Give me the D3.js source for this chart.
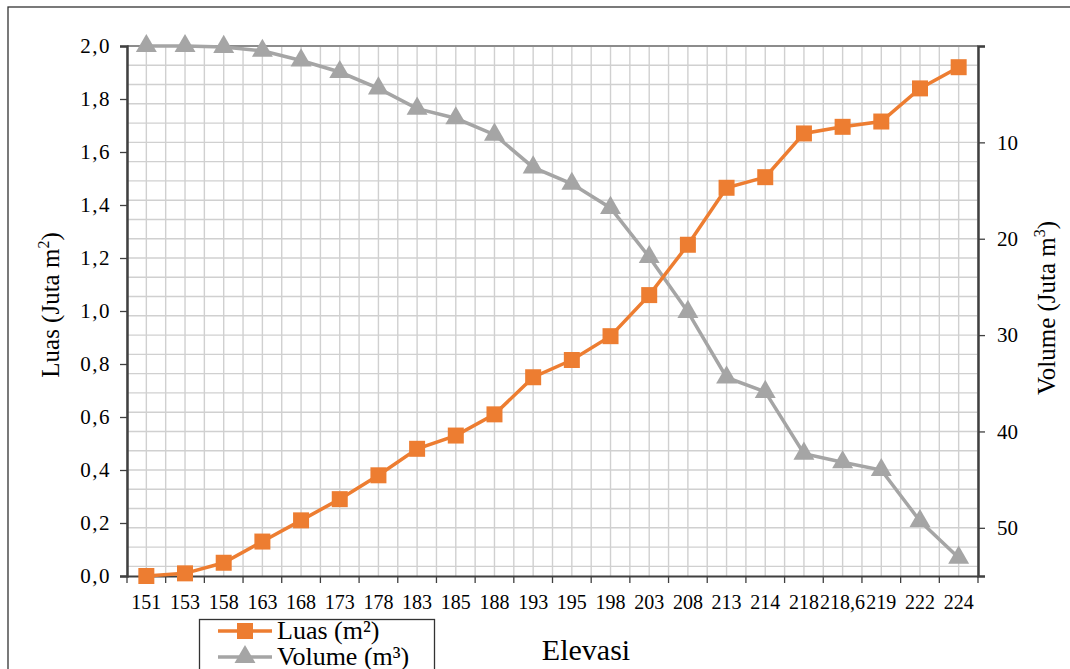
<!DOCTYPE html>
<html>
<head>
<meta charset="utf-8">
<script src="https://cdn.jsdelivr.net/npm/d3@7"></script>
<style>
  body { margin: 0; background: #fff; }
  svg text { font-family: "Liberation Serif", "Times New Roman", serif; fill: #000; }
</style>
</head>
<body>
<div id="chart"></div>
<script>
// data
const elevasi = ["151","153","158","163","168","173","178","183","185","188","193","195","198","203","208","213","214","218","218,6","219","222","224"]
const luas = [0, 0.01, 0.05, 0.13, 0.21, 0.29, 0.38, 0.48, 0.53, 0.61, 0.75, 0.815, 0.905, 1.06, 1.25, 1.465, 1.505, 1.67, 1.695, 1.715, 1.84, 1.92]
const volume = [0, 0, 0.1, 0.5, 1.5, 2.7, 4.4, 6.5, 7.5, 9.2, 12.6, 14.3, 16.8, 21.9, 27.6, 34.4, 35.9, 42.3, 43.2, 44.0, 49.3, 53.1]
const leftTicks = [0, 0.2, 0.4, 0.6, 0.8, 1.0, 1.2, 1.4, 1.6, 1.8, 2.0]
const rightTicks = [0, 10, 20, 30, 40, 50]

const width = 1070
const height = 669
const margins = { top: 46, bottom: 93, left: 127, right: 92 }
const orange = "#ED7D31"
const grey = "#A5A5A5"

let svg = d3.select('div#chart').append('svg').attr("width", width).attr("height", height)

// outer frame
svg.append('rect').attr('x', 8).attr('y', 7).attr('width', 1100).attr('height', 700)
    .attr('fill', 'none').attr('stroke', '#333').attr('stroke-width', 1.3)

let x = d3.scaleBand().domain(elevasi).range([margins.left, width - margins.right]).padding(0)
let yL = d3.scaleLinear().domain([0, 2]).range([height - margins.bottom, margins.top])
let yR = d3.scaleLinear().domain([0, 55]).range([margins.top, height - margins.bottom])

let grid = svg.append('g').attr('id', 'grid')
// vertical grid: band edges and centres
let vLines = []
elevasi.forEach(e => { vLines.push(x(e)); vLines.push(x(e) + x.bandwidth() / 2) })
vLines.push(x.range()[1])
grid.selectAll('line.v').data(vLines).join('line').attr('class', 'v')
    .attr('x1', d => d).attr('x2', d => d)
    .attr('y1', margins.top).attr('y2', height - margins.bottom)
    .attr('stroke', '#d0d0d0').attr('stroke-width', 1.4)
// horizontal grid from right axis minor units
grid.selectAll('line.h').data(d3.range(0, 55, 2)).join('line').attr('class', 'h')
    .attr('x1', margins.left).attr('x2', width - margins.right)
    .attr('y1', d => yR(d)).attr('y2', d => yR(d))
    .attr('stroke', '#d0d0d0').attr('stroke-width', 1.4)
// top edge
grid.append('line').attr('x1', margins.left).attr('x2', width - margins.right)
    .attr('y1', margins.top).attr('y2', margins.top).attr('stroke', '#8c8c8c').attr('stroke-width', 2)

// axes
let xAxis = d3.axisBottom(x).tickSize(0).tickPadding(19)
let xAxisGroup = svg.append('g').attr('transform', `translate(0, ${height - margins.bottom})`).call(xAxis)
xAxisGroup.select('.domain').attr('stroke', '#404040').attr('stroke-width', 2)
xAxisGroup.selectAll('text').attr('font-size', 20)
xAxisGroup.selectAll('line.edge').data(vLines.filter((d, i) => i % 2 == 0)).join('line').attr('class', 'edge')
    .attr('x1', d => d).attr('x2', d => d).attr('y1', 0).attr('y2', 7).attr('stroke', '#404040').attr('stroke-width', 1.3)

let yAxisL = d3.axisLeft(yL).tickValues(leftTicks).tickFormat(d => d3.format('.1f')(d).replace('.', ',')).tickSize(7).tickPadding(9)
let yAxisLGroup = svg.append('g').attr('transform', `translate(${margins.left}, 0)`).call(yAxisL)
yAxisLGroup.select('.domain').attr('stroke', '#404040').attr('stroke-width', 2.5)
yAxisLGroup.selectAll('.tick line').attr('stroke', '#404040').attr('stroke-width', 1.3)
yAxisLGroup.selectAll('text').attr('font-size', 21).attr('letter-spacing', 1.5)

let yAxisR = d3.axisRight(yR).tickValues(rightTicks).tickFormat(d => d == 0 ? '' : d).tickSize(7).tickPadding(12)
let yAxisRGroup = svg.append('g').attr('transform', `translate(${width - margins.right}, 0)`).call(yAxisR)
yAxisRGroup.select('.domain').attr('stroke', '#404040').attr('stroke-width', 2.5)
yAxisRGroup.selectAll('.tick line').attr('stroke', '#404040').attr('stroke-width', 1.3)
yAxisRGroup.selectAll('text').attr('font-size', 21)

// titles
let tL = svg.append('text').attr('transform', 'translate(59, 305) rotate(-90)').attr('text-anchor', 'middle').attr('font-size', 25)
tL.append('tspan').text('Luas (Juta m')
tL.append('tspan').text('2').attr('font-size', 16).attr('dy', -10)
tL.append('tspan').text(')').attr('dy', 10)

let tR = svg.append('text').attr('transform', 'translate(1055, 308) rotate(-90)').attr('text-anchor', 'middle').attr('font-size', 25)
tR.append('tspan').text('Volume (Juta m')
tR.append('tspan').text('3').attr('font-size', 16).attr('dy', -10)
tR.append('tspan').text(')').attr('dy', 10)

svg.append('text').attr('x', 586).attr('y', 660).attr('text-anchor', 'middle').attr('font-size', 30).text('Elevasi')

// series
let cx = d => x(d) + x.bandwidth() / 2
let sq = d3.symbol().type(d3.symbolSquare).size(256)
let tri = d3.symbol().type(d3.symbolTriangle).size(190)

let volG = svg.append('g')
volG.append('path').datum(volume)
    .attr('d', d3.line().x((d, i) => cx(elevasi[i])).y(d => yR(d)))
    .attr('fill', 'none').attr('stroke', grey).attr('stroke-width', 3.5)
volG.selectAll('path.m').data(volume).join('path').attr('class', 'm')
    .attr('d', tri).attr('fill', grey)
    .attr('transform', (d, i) => `translate(${cx(elevasi[i])}, ${yR(d)})`)

let luasG = svg.append('g')
luasG.append('path').datum(luas)
    .attr('d', d3.line().x((d, i) => cx(elevasi[i])).y(d => yL(d)))
    .attr('fill', 'none').attr('stroke', orange).attr('stroke-width', 3.5)
luasG.selectAll('path.m').data(luas).join('path').attr('class', 'm')
    .attr('d', sq).attr('fill', orange)
    .attr('transform', (d, i) => `translate(${cx(elevasi[i])}, ${yL(d)})`)

// legend
let legend = svg.append('g')
legend.append('rect').attr('x', 199.5).attr('y', 619.5).attr('width', 235).attr('height', 80)
    .attr('fill', '#fff').attr('stroke', '#333').attr('stroke-width', 1.3)
const legendItems = [
    { label: 'Luas (m²)', color: orange, sym: sq, y: 631 },
    { label: 'Volume (m³)', color: grey, sym: tri, y: 657 }
]
legendItems.forEach(d => {
    legend.append('line').attr('x1', 218).attr('x2', 272).attr('y1', d.y).attr('y2', d.y)
        .attr('stroke', d.color).attr('stroke-width', 3.5)
    legend.append('path').attr('d', d.sym).attr('fill', d.color).attr('transform', `translate(245, ${d.y})`)
    legend.append('text').attr('x', 277).attr('y', d.y + 8).attr('font-size', 26).text(d.label)
})
</script>
</body>
</html>
